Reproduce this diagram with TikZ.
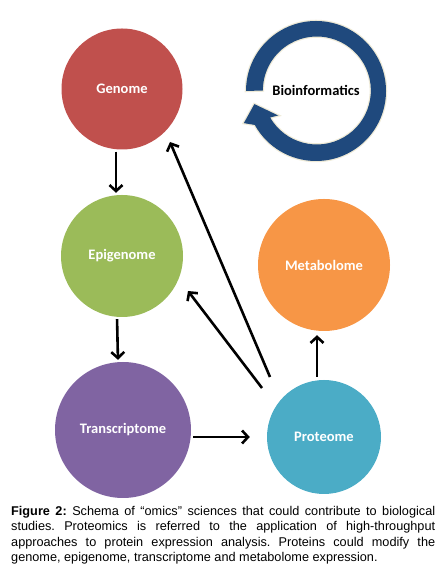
\documentclass[tikz,border=0pt]{standalone}
\usepackage{fontspec}
\setmainfont{Liberation Sans}
\newfontfamily\circlefont{Carlito}
\usepackage{xcolor}
\usepackage{tikz}
\usetikzlibrary{arrows.meta, positioning, calc}
\definecolor{genomered}{RGB}{192, 80, 77}
\definecolor{epigreen}{RGB}{155, 187, 89}
\definecolor{transpurple}{RGB}{128, 100, 162}
\definecolor{proteoblue}{RGB}{75, 172, 198}
\definecolor{metaorange}{RGB}{247, 150, 70}
\definecolor{ringblue}{RGB}{31, 73, 125}
\definecolor{ringglow}{RGB}{238, 234, 215}
\hyphenpenalty=10000
\exhyphenpenalty=10000

\begin{document}
\begin{tikzpicture}[x=1pt, y=1pt,
    omic/.style={circle, inner sep=0pt, text=white, font=\circlefont\bfseries\fontsize{14.5}{16}\selectfont},
    flow/.style={line width=2.6pt, -{Straight Barb[length=6pt, width=13pt]}}]
\useasboundingbox (0,0) rectangle (443,572);

% Omics circles
\node[omic, fill=genomered, minimum size=121pt] (genome) at (122,483) {Genome};
\node[omic, fill=epigreen, minimum size=122pt] (epigenome) at (122,316) {Epigenome};
\node[omic, fill=transpurple, minimum size=136pt] (transcriptome) at (123,142) {Transcriptome};
\node[omic, fill=proteoblue, minimum size=114pt] (proteome) at (324,135) {Proteome};
\node[omic, fill=metaorange, minimum size=132pt] (metabolome) at (324,307) {Metabolome};

% Bioinformatics cycle
\coordinate (cyc) at (316,481);
\fill[ringblue, preaction={draw=ringglow, line width=2.5pt}]
    ($(cyc)+(180:70)$) arc[start angle=180, end angle=-151, radius=70]
    -- ($(cyc)+(204:79)$) -- ($(cyc)+(192:63)$) -- ($(cyc)+(213:45)$) -- ($(cyc)+(210:53)$)
    arc[start angle=-150, end angle=180, radius=54] -- cycle;
\node[font=\circlefont\bfseries\fontsize{14.5}{16}\selectfont] (bioinf) at (316,482) {Bioinformatics};

% Information flow
\draw[flow, shorten <=2pt, shorten >=2pt] ([xshift=-6pt]genome.south) -- ([xshift=-6pt]epigenome.north);
\draw[flow, shorten <=2pt, shorten >=2pt] ([xshift=-5pt]epigenome.south) -- ([xshift=-5pt]transcriptome.north);
\draw[flow, shorten <=2pt, shorten >=17pt] (proteome.west -| transcriptome.east) -- (proteome.west);
\draw[flow, shorten <=3pt, shorten >=4pt] ([xshift=-7pt]proteome.north) -- ([xshift=-7pt]metabolome.south);

% Proteins act back on the other layers
\draw[flow] ($(proteome.center)+(-54,60)$) -- ($(genome.center)+(48,-53)$);
\draw[flow] ($(proteome.center)+(-62,49)$) -- ($(epigenome.center)+(66,-35)$);

% Caption
\node[anchor=north west, text width=424pt, align=justify, inner sep=0pt,
      font=\fontsize{12.7}{15.5}\selectfont\frenchspacing] (caption) at (11,66)
    {\textbf{Figure 2:} Schema of “omics” sciences that could contribute to biological studies. Proteomics is referred to the application of \mbox{high-throughput} approaches to protein expression analysis. Proteins could modify the genome, epigenome, transcriptome and metabolome expression.};
\end{tikzpicture}
\end{document}
